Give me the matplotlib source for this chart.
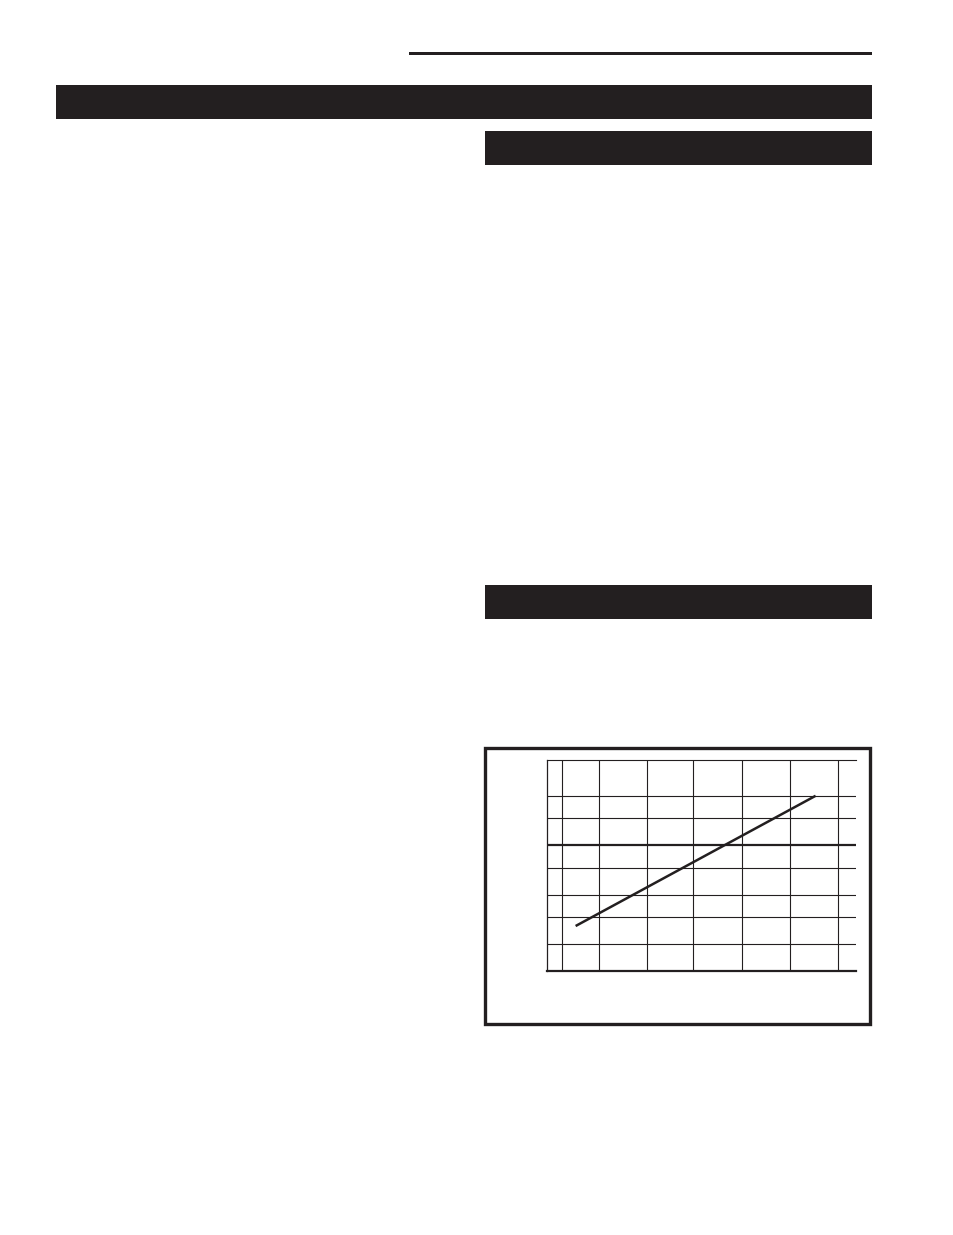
import matplotlib
matplotlib.use("Agg")
import matplotlib.pyplot as plt
from matplotlib.patches import Rectangle


INK = "#231f20"
W, H = 954, 1235

# chart data
x_grid = [0.31, 1.08, 2.08, 3.04, 4.06, 5.06, 6.06]
y_grid = [1.07, 2.15, 3.03, 4.11, 6.12, 6.99]
y_ref = 5.05
line_x = [0.59, 5.59]
line_y = [1.80, 7.01]


def box(fig, x0, y0, x1, y1, **kw):
    # page box in pixels (top-left origin) -> figure fractions
    r = Rectangle(
        (x0 / W, 1 - y1 / H),
        (x1 - x0) / W,
        (y1 - y0) / H,
        transform=fig.transFigure,
        **kw
    )
    fig.add_artist(r)


fig = plt.figure(figsize=(W / 100, H / 100), dpi=100)
fig.patch.set_facecolor("white")

# ==========================
# Page furniture
# ==========================

box(fig, 409, 52, 872, 55, facecolor=INK, edgecolor="none")
box(fig, 56, 85, 872, 118.7, facecolor=INK, edgecolor="none")
box(fig, 485, 130.7, 872, 165, facecolor=INK, edgecolor="none")
box(fig, 485, 584.7, 872, 619, facecolor=INK, edgecolor="none")
box(fig, 485.3, 748, 870, 1024.2, facecolor="none", edgecolor=INK, linewidth=2.4)

# ==========================
# Chart
# ==========================

left, right, top, bottom = 547.3, 855.7, 760.3, 971
ax = fig.add_axes([left / W, 1 - bottom / H, (right - left) / W, (bottom - top) / H])

for x in x_grid:
    ax.axvline(x, color=INK, linewidth=0.8)

for y in y_grid:
    ax.axhline(y, color=INK, linewidth=0.8)

ax.axhline(y_ref, color=INK, linewidth=1.6)

ax.plot(line_x, line_y, color=INK, linewidth=1.8, solid_capstyle="butt")

ax.set_xlim(0, 6.425)
ax.set_ylim(0, 8.43)
ax.set_xticks([])
ax.set_yticks([])

ax.spines["right"].set_visible(False)
ax.spines["left"].set_linewidth(0.9)
ax.spines["top"].set_linewidth(0.8)
ax.spines["bottom"].set_linewidth(1.6)
for s in ax.spines.values():
    s.set_color(INK)

fig.savefig("out.png", dpi=100, facecolor="white")
